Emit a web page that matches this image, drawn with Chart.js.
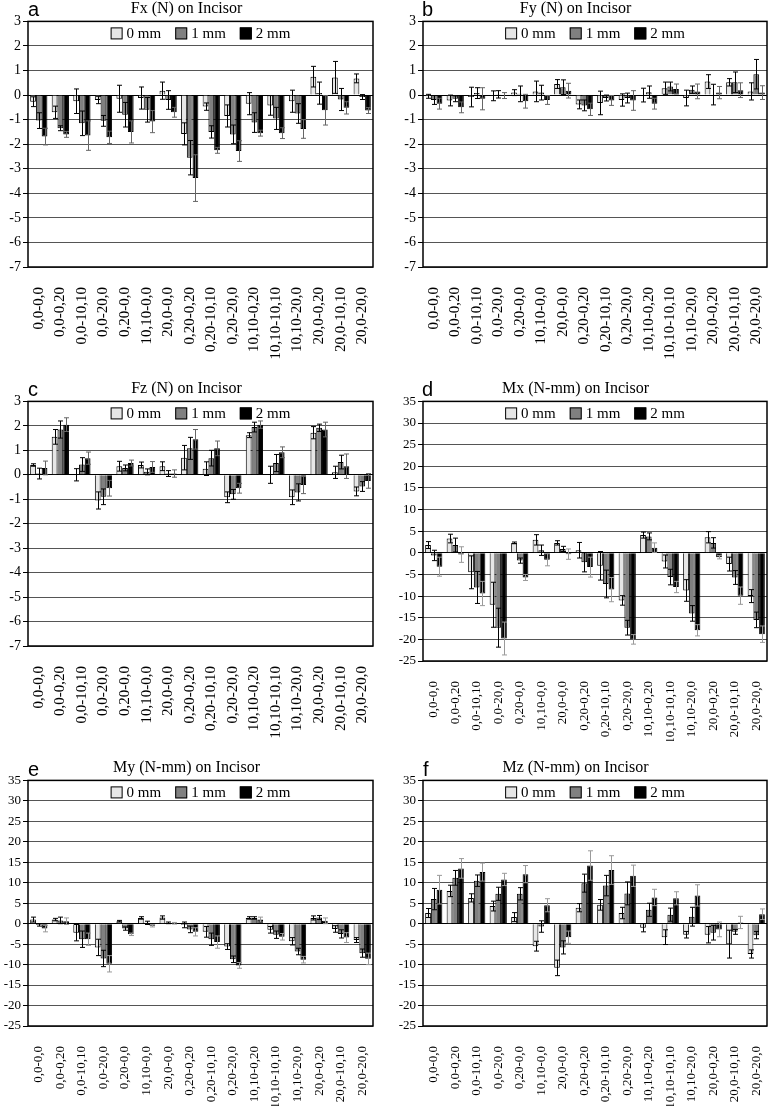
<!DOCTYPE html>
<html>
<head>
<meta charset="utf-8">
<script src="https://cdn.jsdelivr.net/npm/chart.js@4.4.1/dist/chart.umd.min.js"></script>
<style>
  body { margin: 0; background: #fff; }
  #page { position: relative; width: 768px; height: 1106px; overflow: hidden; }
  .panel { position: absolute; }
  .letter { position: absolute; font-family: "Liberation Sans", Arial, sans-serif; font-size: 20px; line-height: 20px; color: #000; }
</style>
</head>
<body>
<div id="page">
  <div class="panel" style="left:0px;top:0px;width:376px;height:362px"><canvas id="cA"></canvas></div>
  <div class="panel" style="left:384px;top:0px;width:384px;height:362px"><canvas id="cB"></canvas></div>
  <div class="panel" style="left:0px;top:380px;width:376px;height:361px"><canvas id="cC"></canvas></div>
  <div class="panel" style="left:384px;top:380px;width:384px;height:361px"><canvas id="cD"></canvas></div>
  <div class="panel" style="left:0px;top:759px;width:376px;height:347px"><canvas id="cE"></canvas></div>
  <div class="panel" style="left:384px;top:759px;width:384px;height:347px"><canvas id="cF"></canvas></div>
  <div class="letter" style="left:28px;top:-1px">a</div>
  <div class="letter" style="left:422px;top:-1px">b</div>
  <div class="letter" style="left:28px;top:379px">c</div>
  <div class="letter" style="left:422px;top:379px">d</div>
  <div class="letter" style="left:28px;top:759px">e</div>
  <div class="letter" style="left:423px;top:759px">f</div>
</div>
<script>
// categories (same for all six panels)
var categories = ["0,0-0,0", "0,0-0,20", "0,0-10,10", "0,0-20,0", "0,20-0,0", "10,10-0,0",
                  "20,0-0,0", "0,20-0,20", "0,20-10,10", "0,20-20,0", "10,10-0,20",
                  "10,10-10,10", "10,10-20,0", "20,0-0,20", "20,0-10,10", "20,0-20,0"];
var seriesNames = ["0 mm", "1 mm", "2 mm"];

// a: Fx (N)
var fx0 = [-0.27, -0.7, -0.25, -0.2, -0.15, -0.12, 0.18, -1.58, -0.47, -0.85, -0.35, -0.42, -0.25, 0.75, 0.72, 0.68];
var fx1 = [-1.04, -1.35, -1.15, -1.05, -0.8, -0.6, -0.2, -2.55, -1.5, -1.6, -1.12, -0.95, -0.75, 0.08, -0.18, -0.08];
var fx2 = [-1.69, -1.6, -1.65, -1.72, -1.5, -1.08, -0.7, -3.38, -2.25, -2.28, -1.55, -1.55, -1.38, -0.62, -0.52, -0.63];
var fxE0 = [0.2, 0.25, 0.5, 0.15, 0.55, 0.45, 0.35, 0.45, 0.15, 0.45, 0.45, 0.4, 0.45, 0.42, 0.65, 0.18];
var fxE1 = [0.32, 0.1, 0.5, 0.22, 0.5, 0.5, 0.38, 0.7, 0.25, 0.38, 0.4, 0.45, 0.4, 0.45, 0.45, 0.1];
var fxE2 = [0.34, 0.12, 0.6, 0.25, 0.45, 0.45, 0.2, 0.95, 0.12, 0.42, 0.12, 0.22, 0.38, 0.6, 0.25, 0.12];

// b: Fy (N)
var fy0 = [-0.05, -0.22, -0.08, -0.03, 0.1, 0.15, 0.45, -0.38, -0.32, -0.2, 0.0, 0.28, -0.12, 0.55, 0.52, 0.15];
var fy1 = [-0.2, -0.15, 0.08, 0.03, 0.05, 0.1, 0.32, -0.42, -0.12, -0.12, 0.12, 0.35, 0.22, 0.02, 0.52, 0.85];
var fy2 = [-0.35, -0.5, -0.15, -0.02, -0.25, -0.2, 0.18, -0.58, -0.22, -0.22, -0.35, 0.25, 0.15, 0.1, 0.2, 0.1];
var fyE0 = [0.08, 0.22, 0.4, 0.2, 0.12, 0.42, 0.18, 0.18, 0.48, 0.25, 0.28, 0.25, 0.32, 0.28, 0.15, 0.35];
var fyE1 = [0.18, 0.12, 0.22, 0.15, 0.32, 0.3, 0.3, 0.22, 0.12, 0.2, 0.25, 0.18, 0.15, 0.42, 0.42, 0.6];
var fyE2 = [0.22, 0.22, 0.45, 0.12, 0.28, 0.18, 0.3, 0.25, 0.2, 0.4, 0.22, 0.2, 0.3, 0.25, 0.3, 0.28];

// c: Fz (N)
var fz0 = [0.4, 1.55, 0.0, -1.05, 0.35, 0.4, 0.35, 0.7, 0.25, -0.92, 1.62, 0.0, -0.92, 1.72, 0.1, -0.68];
var fz1 = [0.05, 1.85, 0.42, -0.9, 0.28, 0.12, 0.05, 1.08, 0.68, -0.8, 1.95, 0.48, -0.72, 1.92, 0.52, -0.48];
var fz2 = [0.28, 2.05, 0.68, -0.55, 0.48, 0.32, 0.05, 1.45, 1.08, -0.55, 2.05, 0.92, -0.42, 1.85, 0.35, -0.25];
var fzE0 = [0.05, 0.3, 0.25, 0.35, 0.2, 0.12, 0.18, 0.5, 0.28, 0.22, 0.1, 0.35, 0.3, 0.25, 0.25, 0.18];
var fzE1 = [0.22, 0.35, 0.28, 0.32, 0.12, 0.12, 0.12, 0.45, 0.32, 0.2, 0.2, 0.35, 0.35, 0.15, 0.28, 0.2];
var fzE2 = [0.28, 0.28, 0.25, 0.32, 0.12, 0.22, 0.15, 0.4, 0.3, 0.2, 0.15, 0.22, 0.35, 0.3, 0.5, 0.3];

// d: Mx (N-mm)
var mx0 = [1.8, 3.3, -4.5, -12, 2.3, 3, 2.3, 0.6, -3, -11, 4.1, -2, -8.7, 3.6, -2.6, -10];
var mx1 = [-0.6, 1.8, -8, -17.3, -1.8, 0.6, 0.9, -2.2, -7.2, -17.3, 3.8, -5.6, -14, 2.3, -5.7, -15.5];
var mx2 = [-3.2, -0.4, -9.4, -19.8, -5.7, -1.6, -0.3, -3.3, -8.5, -20, 1.2, -7.9, -17.9, -1, -9.9, -18.8];
var mxE0 = [0.8, 1.0, 3.8, 5.2, 0.2, 1.2, 0.5, 1.8, 3.3, 1.1, 0.7, 1.5, 2.5, 1.3, 1.6, 1.5];
var mxE1 = [1.2, 1.6, 3.7, 4.5, 0.6, 1.2, 0.6, 2.2, 3.2, 1.7, 0.8, 1.8, 1.8, 1.2, 1.6, 1.8];
var mxE2 = [2.2, 1.8, 2.8, 3.8, 0.7, 1.4, 1.2, 2.3, 2.8, 1.1, 1.1, 1.3, 1.3, 0.4, 2.0, 1.9];

// e: My (N-mm)
var my0 = [1.0, 1.0, -2.2, -5.8, 0.6, 1.4, 1.5, -0.3, -2.0, -5.6, 1.4, -1.5, -4.3, 1.4, -1.3, -4.0];
var my1 = [-0.3, 0.8, -3.8, -8.5, -1.2, 0.2, 0.2, -1.4, -3.8, -8.7, 1.4, -2.7, -6.8, 1.5, -2.5, -7.2];
var my2 = [-1.2, 0.6, -3.8, -9.8, -2.6, -0.5, 0.1, -2.0, -4.5, -10.2, 1.0, -3.2, -8.8, 0.7, -3.4, -8.6];
var myE0 = [0.6, 0.3, 2.0, 2.0, 0.2, 0.3, 0.4, 0.7, 1.3, 0.7, 0.3, 0.8, 0.9, 0.5, 0.8, 0.6];
var myE1 = [0.3, 0.8, 2.0, 2.0, 0.4, 0.4, 0.2, 0.8, 1.5, 0.8, 0.3, 0.9, 0.8, 0.5, 1.0, 1.0];
var myE2 = [0.8, 0.8, 1.5, 2.0, 0.3, 0.3, 0.2, 1.0, 1.5, 0.7, 0.6, 0.8, 0.8, 0.7, 1.2, 1.4];

// f: Mz (N-mm)
var mz0 = [2.6, 8.0, 6.3, 4.3, 1.6, -5.5, -10.8, 3.9, 4.6, 2.6, -1.0, -3.3, -2.7, -2.7, -5.0, -7.4];
var mz1 = [6.0, 11.2, 10.5, 7.3, 7.3, -0.7, -5.8, 9.9, 9.3, 7.4, 3.4, 2.2, 1.7, -2.2, -2.0, -2.8];
var mz2 = [8.3, 13.5, 12.6, 10.8, 12.1, 4.5, -3.3, 14.2, 13.1, 11.7, 6.4, 6.2, 6.9, -1.4, 0.3, 2.3];
var mzE0 = [1.1, 1.4, 1.0, 1.2, 1.1, 1.2, 1.9, 1.0, 1.3, 1.4, 1.0, 1.8, 0.8, 2.0, 3.4, 1.0];
var mzE1 = [2.6, 1.8, 1.4, 1.6, 1.5, 1.4, 1.6, 2.2, 2.5, 2.8, 1.6, 1.6, 2.3, 1.8, 0.6, 0.9];
var mzE2 = [3.5, 2.4, 2.2, 1.5, 2.1, 1.6, 1.5, 3.6, 3.5, 2.6, 2.0, 1.6, 2.6, 1.8, 1.5, 1.3];

var SERIF = '"Liberation Serif", "Times New Roman", serif';
var fills = ["#e6e6e6", "#808080", "#000000"];

// error bars, full frame and the legend inside the plot area
var panelExtras = {
	id: 'panelExtras',
	afterDatasetsDraw: function(chart) {
		var ctx = chart.ctx;
		var yScale = chart.scales.y;
		var errs = chart.options.plugins.panelExtras.errors;
		var colors = chart.options.plugins.panelExtras.errColors;
		ctx.save();
		ctx.lineWidth = 1;
		chart.data.datasets.forEach(function(ds, i) {
			var meta = chart.getDatasetMeta(i);
			meta.data.forEach(function(bar, j) {
				var v = ds.data[j];
				var e = errs[i][j];
				var x = Math.round(bar.x) + 0.5;
				var yTop = yScale.getPixelForValue(v + e);
				var yBot = yScale.getPixelForValue(v - e);
				ctx.strokeStyle = colors[i];
				ctx.beginPath();
				ctx.moveTo(x, yTop); ctx.lineTo(x, yBot);
				ctx.moveTo(x - 2.5, yTop); ctx.lineTo(x + 2.5, yTop);
				ctx.moveTo(x - 2.5, yBot); ctx.lineTo(x + 2.5, yBot);
				ctx.stroke();
			});
		});
		ctx.restore();
	},
	afterDraw: function(chart) {
		var ctx = chart.ctx;
		var a = chart.chartArea;
		ctx.save();
		ctx.strokeStyle = "#000";
		ctx.lineWidth = 1.5;
		ctx.strokeRect(a.left, a.top, a.right - a.left, a.bottom - a.top);

		// legend
		ctx.font = '15px ' + SERIF;
		var box = 12, gap = 4, space = 14;
		var total = 0;
		chart.data.datasets.forEach(function(ds, i) {
			total += box + gap + ctx.measureText(ds.label).width;
			if (i > 0) total += space;
		});
		var x = (a.left + a.right) / 2 - total / 2;
		var cy = a.top + 12;
		ctx.textBaseline = 'middle';
		ctx.textAlign = 'left';
		chart.data.datasets.forEach(function(ds, i) {
			ctx.fillStyle = ds.backgroundColor;
			ctx.fillRect(x, cy - box / 2, box, box);
			ctx.lineWidth = 1;
			ctx.strokeStyle = "#000";
			ctx.strokeRect(x + 0.5, cy - box / 2 + 0.5, box - 1, box - 1);
			x += box + gap;
			ctx.fillStyle = "#000";
			ctx.fillText(ds.label, x, cy + 1);
			x += ctx.measureText(ds.label).width + space;
		});
		ctx.restore();
	}
};

function makePanel(id, title, vals, errs, yMin, yMax, yStep, right, small) {
	var datasets = [];
	for (var i = 0; i < 3; i++) {
		datasets.push({
			label: seriesNames[i],
			data: vals[i],
			backgroundColor: fills[i],
			borderColor: "#000",
			borderWidth: 1,
			categoryPercentage: 0.8,
			barPercentage: 1.0
		});
	}
	var errColor2 = small ? "#9a9a9a" : "#666";
	return new Chart(document.getElementById(id), {
		type: 'bar',
		data: { labels: categories, datasets: datasets },
		options: {
			responsive: true,
			maintainAspectRatio: false,
			animation: false,
			layout: { padding: { left: 0, right: right ? 1 : 3, top: 0, bottom: 0 } },
			plugins: {
				legend: { display: false },
				tooltip: { enabled: false },
				title: {
					display: true,
					text: title,
					color: "#000",
					font: { family: SERIF, size: 16, weight: 'normal', lineHeight: 1.15 },
					padding: { top: 0, bottom: 3 }
				},
				panelExtras: { errors: errs, errColors: ["#000", "#000", errColor2] }
			},
			scales: {
				x: {
					grid: { display: false },
					border: { display: false },
					ticks: {
						autoSkip: false,
						maxRotation: 90,
						minRotation: 90,
						padding: 12,
						color: "#000",
						font: { family: SERIF, size: small ? 13 : 15 }
					},
					afterFit: function(scale) {
						scale.height = small ? 80 : 95;
						scale.paddingLeft = 0;
						scale.paddingRight = 0;
					}
				},
				y: {
					min: yMin,
					max: yMax,
					border: { display: false },
					grid: {
						color: function(c) { return c.tick && c.tick.value === 0 ? "#000" : "#555"; },
						lineWidth: 1,
						tickLength: 5,
						tickColor: "#000"
					},
					ticks: {
						stepSize: yStep,
						padding: 2,
						color: "#000",
						font: { family: SERIF, size: small ? 13 : 14 }
					},
					afterFit: function(scale) { scale.width = right ? 39 : 28; }
				}
			}
		},
		plugins: [panelExtras]
	});
}

makePanel("cA", "Fx (N) on Incisor", [fx0, fx1, fx2], [fxE0, fxE1, fxE2], -7, 3, 1, false, false);
makePanel("cB", "Fy (N) on Incisor", [fy0, fy1, fy2], [fyE0, fyE1, fyE2], -7, 3, 1, true, false);
makePanel("cC", "Fz (N) on Incisor", [fz0, fz1, fz2], [fzE0, fzE1, fzE2], -7, 3, 1, false, false);
makePanel("cD", "Mx (N-mm) on Incisor", [mx0, mx1, mx2], [mxE0, mxE1, mxE2], -25, 35, 5, true, true);
makePanel("cE", "My (N-mm) on Incisor", [my0, my1, my2], [myE0, myE1, myE2], -25, 35, 5, false, true);
makePanel("cF", "Mz (N-mm) on Incisor", [mz0, mz1, mz2], [mzE0, mzE1, mzE2], -25, 35, 5, true, true);
</script>
</body>
</html>
